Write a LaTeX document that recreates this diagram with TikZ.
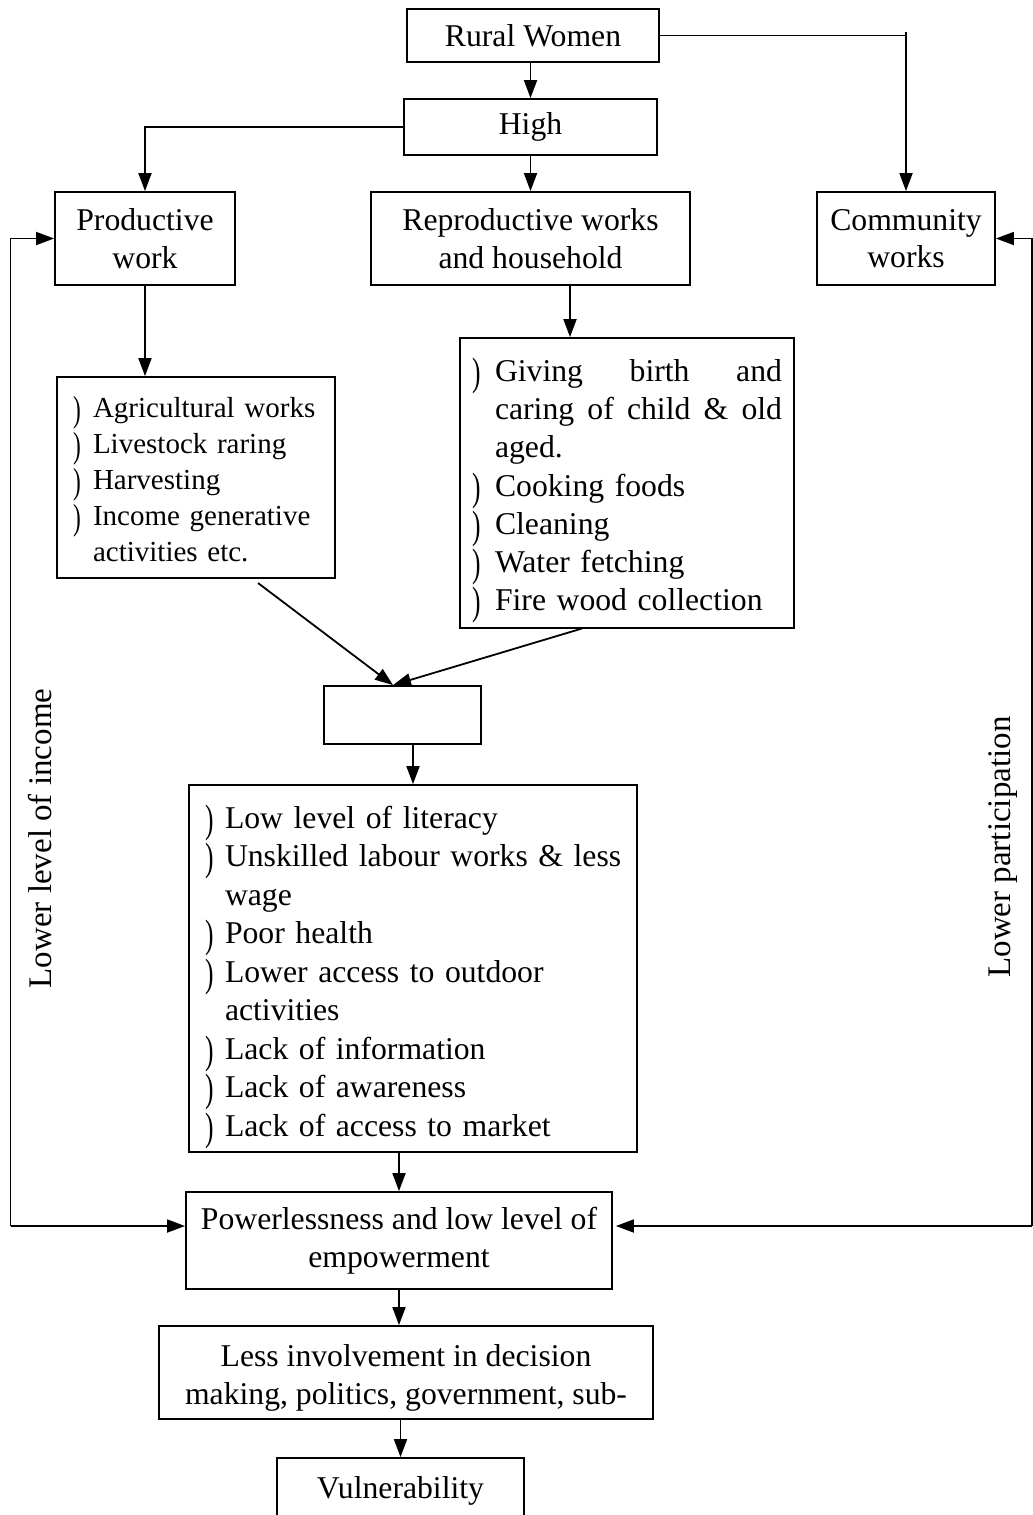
\documentclass[tikz,border=0pt]{standalone}
\usepackage{fontspec}
\setmainfont{Liberation Serif}
\usetikzlibrary{arrows.meta}
\newcommand\fsbox{\fontsize{31.7}{37.5}\selectfont}
\newcommand\fsprod{\fontsize{29}{36}\selectfont}
\newcommand\fsrep{\fontsize{31.7}{38.3}\selectfont}
\newcommand\fsmain{\fontsize{31.7}{38.5}\selectfont}
\newcommand\bulw[1]{\makebox[#1][l]{\raisebox{-4pt}{\scalebox{0.8}[1.25]{)}}}}
\begin{document}
\begin{tikzpicture}[x=1pt,y=-1pt,
  box/.style={draw, line width=1.8pt, inner sep=0pt, align=center, font=\fsbox},
  frame/.style={draw, line width=1.8pt, inner sep=0pt},
  listtext/.style={inner ysep=0pt, align=left},
  arr/.style={line width=1.8pt, -{Triangle[length=18pt,width=13pt]}},
  ln/.style={line width=1.8pt},
  lbl/.style={rotate=90, inner sep=0pt, font=\fontsize{33}{38}\selectfont}]
\useasboundingbox (0,0) rectangle (1033,1515);
\clip (0,0) rectangle (1033,1515);

% boxes
\node[box, minimum width=252pt, minimum height=53pt] (rural) at (533,35.5) {Rural Women};
\node[box, minimum width=253pt, minimum height=56pt] (high) at (530.5,127) {High};
\node[box, minimum width=180pt, minimum height=93pt] (prod) at (145,238.5) {Productive\\work};
\node[box, minimum width=319pt, minimum height=93pt] (repro) at (530.5,238.5) {Reproductive works\\and household};
\node[box, minimum width=178pt, minimum height=93pt] (comm) at (906,238.5) {Community\\works};

\node[frame, minimum width=278pt, minimum height=201pt] (prodlist) at (196,477.5) {};
\node[listtext, font=\fsprod, text width=246pt, inner xsep=16pt] (prodtext) at (196,479.5)
 {\bulw{20pt}Agricultural works\\
  \bulw{20pt}Livestock raring\\
  \bulw{20pt}Harvesting\\
  \bulw{20pt}\mbox{Income generative}\\
  \hspace*{20pt}activities etc.};

\node[frame, minimum width=334pt, minimum height=290pt] (reprolist) at (627,483) {};
\node[listtext, font=\fsrep, text width=310pt, inner xsep=12pt] (reprotext) at (627,490.5)
 {\bulw{23pt}\hbox to 287pt{Giving\hfill birth\hfill and}\\
  \hspace*{23pt}\hbox to 287pt{caring\hfill of\hfill child\hfill \&\hfill old}\\
  \hspace*{23pt}aged.\\
  \bulw{23pt}Cooking foods\\
  \bulw{23pt}Cleaning\\
  \bulw{23pt}Water fetching\\
  \bulw{23pt}\mbox{Fire wood collection}};

\node[frame, minimum width=157pt, minimum height=58pt] (empty) at (402.5,715) {};

\node[frame, minimum width=448pt, minimum height=367pt] (mainlist) at (413,968.5) {};
\node[listtext, font=\fsmain, text width=416pt, inner xsep=16pt] (maintext) at (413,976.5)
 {\bulw{20pt}Low level of literacy\\
  \bulw{20pt}\mbox{Unskilled labour works \& less}\\
  \hspace*{20pt}wage\\
  \bulw{20pt}Poor health\\
  \bulw{20pt}\mbox{Lower access to outdoor}\\
  \hspace*{20pt}activities\\
  \bulw{20pt}Lack of information\\
  \bulw{20pt}Lack of awareness\\
  \bulw{20pt}\mbox{Lack of access to market}};

\node[box, font=\fontsize{31.7}{38}\selectfont, minimum width=426pt, minimum height=97pt] (power) at (399,1240.5) {Powerlessness and low level of\\empowerment};
\node[frame, minimum width=494pt, minimum height=93pt] (less) at (406,1372.5) {};
\node[align=center, inner sep=0pt, font=\fontsize{31.7}{38}\selectfont] (lesstext) at (406,1378) {Less involvement in decision\\making, politics, government, sub-};
\node[frame, minimum width=247pt, minimum height=60pt] (vuln) at (400.5,1488) {};
\node[inner sep=0pt, font=\fsbox] (vulntext) at (400.5,1491) {Vulnerability};

% side labels
\node[lbl] (lincome) at (40,838.5) {Lower level of income};
\node[lbl] (lpart) at (1003,847) {Lower participation};

% connectors
\draw[arr] (high.north |- rural.south) -- (high.north);
\draw[arr] (rural.east) -| (comm.north);
\draw[ln] (comm.north |- rural.east) -- ++(0,-4);
\draw[arr] (high.west) -| (prod.north);
\draw[arr] (high.south) -- (repro.north);
\draw[arr] (prod.south) -- (prod.south |- prodlist.north);
\coordinate (rdrop) at ([xshift=39.5pt]repro.south);
\draw[arr] (rdrop) -- (rdrop |- reprolist.north);

\coordinate (pd) at (258,583);
\coordinate (rd) at (582,628.5);
\coordinate (tgt) at ([xshift=-9.5pt]empty.north);
\draw[arr] (pd) -- (tgt);
\draw[arr] (rd) -- (tgt);

\draw[arr] (mainlist.north |- empty.south) -- (mainlist.north);
\draw[arr] (power.north |- mainlist.south) -- (power.north);
\draw[arr] (power.south) -- (power.south |- less.north);
\draw[arr] (vuln.north |- less.south) -- (vuln.north);

\coordinate (L1) at (10.5,1226);
\draw[arr] (L1) -- (L1 -| power.west);
\draw[arr] (L1) |- (prod.west);
\coordinate (R1) at (1032,1226);
\draw[arr, shorten >=3pt] (R1) -- (R1 -| power.east);
\draw[arr] (R1) |- (comm.east);
\end{tikzpicture}
\end{document}
